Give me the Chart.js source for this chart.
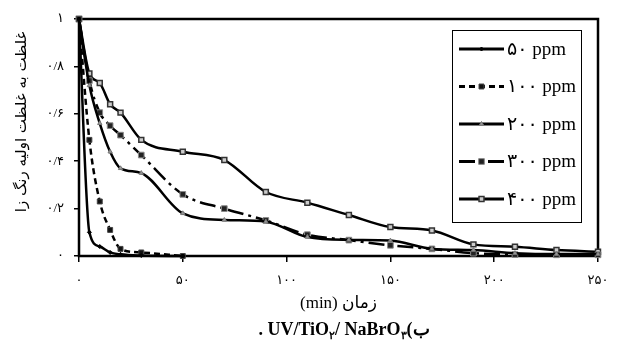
<!DOCTYPE html>
<html>
<head>
<meta charset="utf-8">
<script src="https://cdn.jsdelivr.net/npm/chart.js@4/dist/chart.umd.min.js"></script>
<style>
  body { margin: 0; background: #fff; overflow: hidden; }
  #wrap { position: relative; width: 620px; height: 347px; }
  #caption {
    position: absolute; left: 0; top: 318px; width: 688px;
    text-align: center; white-space: nowrap;
    font: bold 18px "Liberation Serif", "DejaVu Serif", serif; color: #000;
  }
  #caption sub { font-size: 11px; vertical-align: -4px; }
</style>
</head>
<body>
<div id="wrap">
  <canvas id="chart" width="620" height="347"></canvas>
  <div id="caption" dir="rtl">ب)UV/TiO<sub>۲</sub>/ NaBrO<sub>۳</sub> .</div>
</div>
<script>
// Data
const times = [0, 5, 10, 15, 20, 30, 50, 70, 90, 110, 130, 150, 170, 190, 210, 230, 250];
const timesShort = [0, 5, 10, 15, 20, 30, 50];

const ppm50  = [1, 0.10, 0.04, 0.015, 0.007, 0.002, 0];
const ppm100 = [1, 0.49, 0.23, 0.11, 0.03, 0.015, 0];
const ppm200 = [1, 0.72, 0.56, 0.44, 0.37, 0.35, 0.18, 0.152, 0.145, 0.08, 0.068, 0.065, 0.03, 0.025, 0.012, 0.008, 0.008];
const ppm300 = [1, 0.74, 0.605, 0.55, 0.51, 0.426, 0.26, 0.20, 0.15, 0.09, 0.067, 0.045, 0.03, 0.012, 0.006, 0.005, 0.005];
const ppm400 = [1, 0.77, 0.73, 0.64, 0.605, 0.49, 0.44, 0.405, 0.27, 0.225, 0.173, 0.122, 0.108, 0.049, 0.039, 0.025, 0.018];

const seriesNames = ["۵۰ ppm", "۱۰۰ ppm", "۲۰۰ ppm", "۳۰۰ ppm", "۴۰۰ ppm"];

const xTickValues = [0, 50, 100, 150, 200, 250];
const xTickLabels = ["۰", "۵۰", "۱۰۰", "۱۵۰", "۲۰۰", "۲۵۰"];
const yTickValues = [0, 0.2, 0.4, 0.6, 0.8, 1];
const yTickLabels = ["۰", "۰/۲", "۰/۴", "۰/۶", "۰/۸", "۱"];

const xTitle = "(min) زمان";
const yTitle = "غلظت به غلظت اولیه رنگ زا";

function toPoints(xs, ys) {
  return xs.map((x, i) => ({ x: x, y: ys[i] }));
}

const serif = '"Liberation Serif", "DejaVu Sans", serif';

// frame round the plot area
const framePlugin = {
  id: "frame",
  beforeDatasetsDraw(chart) {
    const a = chart.chartArea;
    const ctx = chart.ctx;
    ctx.save();
    ctx.strokeStyle = "#000";
    ctx.lineWidth = 2.5;
    ctx.strokeRect(a.left, a.top, a.right - a.left, a.bottom - a.top);
    ctx.restore();
  }
};

// y title + legend box
const extrasPlugin = {
  id: "extras",
  afterDraw(chart) {
    const ctx = chart.ctx;
    ctx.save();

    ctx.fillStyle = "#000";
    ctx.translate(22, 122);
    ctx.rotate(-Math.PI / 2);
    ctx.textAlign = "center";
    ctx.textBaseline = "middle";
    ctx.font = '15px "DejaVu Sans", sans-serif';
    ctx.fillText(yTitle, 0, 0);
    ctx.setTransform(1, 0, 0, 1, 0, 0);

    // legend
    ctx.fillStyle = "#fff";
    ctx.fillRect(452.5, 30.5, 129, 192);
    ctx.strokeStyle = "#000";
    ctx.lineWidth = 1;
    ctx.strokeRect(452.5, 30.5, 129, 192);

    ctx.font = "19px " + serif;
    ctx.textAlign = "left";
    ctx.textBaseline = "middle";
    chart.data.datasets.forEach((ds, i) => {
      const y = 49 + i * 37.5;
      ctx.strokeStyle = "#000";
      ctx.lineWidth = 3;
      ctx.setLineDash(ds.borderDash || []);
      ctx.beginPath();
      ctx.moveTo(459, y);
      ctx.lineTo(504, y);
      ctx.stroke();
      ctx.setLineDash([]);

      ctx.fillStyle = ds.pointBackgroundColor;
      ctx.strokeStyle = ds.pointBorderColor;
      ctx.lineWidth = ds.pointBorderWidth;
      Chart.helpers.drawPoint(ctx, {
        pointStyle: ds.pointStyle,
        radius: ds.pointRadius,
        borderWidth: ds.pointBorderWidth,
        rotation: 0
      }, 481.5, y);

      ctx.fillStyle = "#000";
      ctx.fillText(seriesNames[i], 507, y + 1);
    });
    ctx.restore();
  }
};

const common = {
  borderColor: "#000",
  borderWidth: 2.5,
  fill: false,
  cubicInterpolationMode: "monotone",
  clip: false
};

new Chart(document.getElementById("chart"), {
  type: "line",
  data: {
    datasets: [
      Object.assign({}, common, {
        label: seriesNames[0],
        data: toPoints(timesShort, ppm50),
        pointStyle: "rectRot", pointRadius: 2,
        pointBackgroundColor: "#000", pointBorderColor: "#000", pointBorderWidth: 1
      }),
      Object.assign({}, common, {
        label: seriesNames[1],
        data: toPoints(timesShort, ppm100),
        borderDash: [6, 4],
        pointStyle: "rect", pointRadius: 3.5,
        pointBackgroundColor: "#111", pointBorderColor: "#444", pointBorderWidth: 1
      }),
      Object.assign({}, common, {
        label: seriesNames[2],
        data: toPoints(times, ppm200),
        pointStyle: "triangle", pointRadius: 2.5,
        pointBackgroundColor: "#999", pointBorderColor: "#777", pointBorderWidth: 1
      }),
      Object.assign({}, common, {
        label: seriesNames[3],
        data: toPoints(times, ppm300),
        borderDash: [16, 5, 3, 5],
        pointStyle: "rect", pointRadius: 4,
        pointBackgroundColor: "#222", pointBorderColor: "#888", pointBorderWidth: 1
      }),
      Object.assign({}, common, {
        label: seriesNames[4],
        data: toPoints(times, ppm400),
        pointStyle: "rect", pointRadius: 3.5,
        pointBackgroundColor: "#ccc", pointBorderColor: "#333", pointBorderWidth: 1.5
      })
    ]
  },
  options: {
    responsive: false,
    animation: false,
    layout: { padding: { left: 0, right: 22, top: 19, bottom: 0 } },
    plugins: {
      legend: { display: false },
      tooltip: { enabled: false }
    },
    scales: {
      x: {
        type: "linear",
        min: 0,
        max: 250,
        afterFit(scale) { scale.height = 91; },
        afterBuildTicks(scale) { scale.ticks = xTickValues.map(v => ({ value: v })); },
        grid: { drawOnChartArea: false, color: "#000", lineWidth: 1.5, tickLength: 6 },
        border: { display: false },
        ticks: {
          padding: 11,
          color: "#000",
          font: { size: 13, family: serif },
          maxRotation: 0,
          callback: (v) => xTickLabels[xTickValues.indexOf(v)]
        },
        title: {
          display: true,
          text: xTitle,
          color: "#000",
          font: { size: 17, family: serif },
          padding: { top: 0, bottom: 33 }
        }
      },
      y: {
        min: 0,
        max: 1,
        afterFit(scale) { scale.width = 79; },
        afterBuildTicks(scale) { scale.ticks = yTickValues.map(v => ({ value: v })); },
        grid: { drawOnChartArea: false, color: "#000", lineWidth: 1.5, tickLength: 5 },
        border: { display: false },
        ticks: {
          padding: 10,
          color: "#000",
          font: { size: 13, family: serif },
          callback: (v) => yTickLabels[yTickValues.indexOf(v)]
        }
      }
    }
  },
  plugins: [framePlugin, extrasPlugin]
});
</script>
</body>
</html>
